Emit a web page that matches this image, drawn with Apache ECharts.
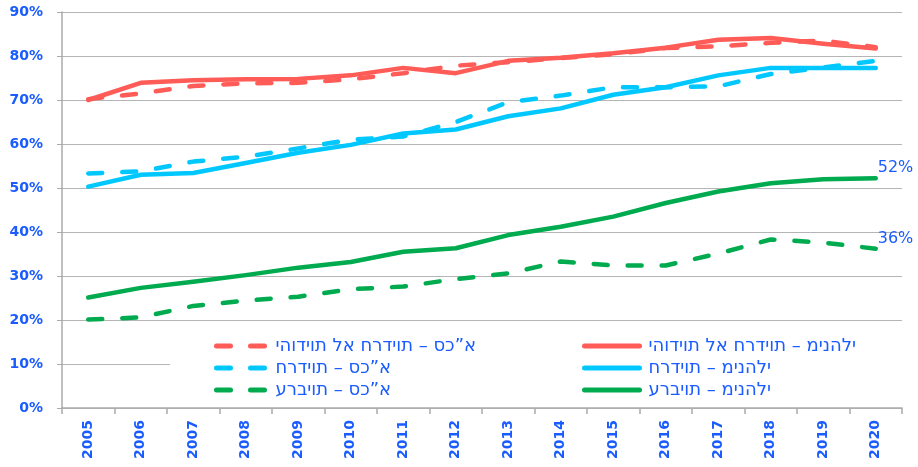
<!DOCTYPE html>
<html>
<head>
<meta charset="utf-8">
<script src="https://cdn.jsdelivr.net/npm/echarts@6/dist/echarts.min.js"></script>
<style>html,body{margin:0;padding:0;background:#fff;}#c{width:918px;height:467px;}</style>
</head>
<body>
<div id="c"></div>
<script>
var years = ['2005','2006','2007','2008','2009','2010','2011','2012','2013','2014','2015','2016','2017','2018','2019','2020'];
var yTicks = [0,10,20,30,40,50,60,70,80,90];

var jewishMgmt   = [70.0,73.9,74.5,74.7,74.8,75.6,77.3,76.1,78.9,79.6,80.6,81.9,83.7,84.1,82.8,81.7];
var jewishAcad   = [70.2,71.5,73.2,73.8,73.9,74.7,76.1,77.8,78.6,79.5,80.4,81.8,82.2,83.0,83.5,82.0];
var orthoMgmt    = [50.3,53.0,53.4,55.7,58.0,59.8,62.4,63.3,66.3,68.1,71.2,72.9,75.6,77.3,77.3,77.3];
var orthoAcad    = [53.3,53.8,56.0,57.1,59.0,61.0,61.7,65.0,69.5,71.0,72.9,72.9,73.1,75.9,77.4,78.9];
var arabMgmt     = [25.1,27.3,28.7,30.2,31.9,33.2,35.5,36.3,39.3,41.2,43.5,46.6,49.2,51.1,52.0,52.2];
var arabAcad     = [20.1,20.6,23.2,24.4,25.3,27.0,27.6,29.3,30.6,33.3,32.4,32.4,35.1,38.3,37.6,36.2];

var names = {
  jm: 'יהודיות לא חרדיות – מינהלי',
  ja: 'יהודיות לא חרדיות – סכ”א',
  om: 'חרדיות – מינהלי',
  oa: 'חרדיות – סכ”א',
  am: 'ערביות – מינהלי',
  aa: 'ערביות – סכ”א'
};

var RED = '#ff5b57', CYAN = '#00c8ff', GREEN = '#00aa4e', BLUE = '#1a5cff';
var FONT = 'DejaVu Sans';
var DASH = [14, 20];

function line(name, data, color, dashed, endLbl) {
  var s = {
    name: name, type: 'line', data: data, symbol: 'none', smooth: false,
    lineStyle: { color: color, width: 4.5, type: dashed ? DASH : 'solid', cap: 'round', join: 'round' },
    itemStyle: { color: color },
    z: 2
  };
  if (endLbl) {
    s.endLabel = {
      show: true, color: BLUE, fontFamily: FONT, fontSize: 16, offset: [-6, -10],
      formatter: function (p) { return Math.round(p.value) + '%'; }
    };
  }
  return s;
}

// the reference lays the Hebrew glyphs out left-to-right; keep that visual order
function ltr(name) { return '\u202D' + name + '\u202C'; }

var legendText = { color: BLUE, fontFamily: FONT, fontSize: 18, lineHeight: 18, padding: [0, 0, 0, 4] };
var legendItem = { color: 'rgba(0,0,0,0)', borderColor: 'rgba(0,0,0,0)', borderWidth: 0, opacity: 0 };
var legendLine = { width: 5, cap: 'round' };

var chart = echarts.init(document.getElementById('c'), null, { renderer: 'canvas' });
chart.setOption({
  animation: false,
  backgroundColor: '#fff',
  grid: { left: 62, right: 16, top: 12, bottom: 59, containLabel: false },
  xAxis: {
    type: 'category', data: years, boundaryGap: true,
    axisLine: { lineStyle: { color: '#aaaaaa', width: 1.5 } },
    axisTick: { show: true, length: 6, lineStyle: { color: '#aaaaaa', width: 1.5 } },
    axisLabel: { rotate: 90, margin: 12, color: BLUE, fontFamily: FONT, fontSize: 14, fontWeight: 'bold', interval: 0 }
  },
  yAxis: {
    type: 'value', min: yTicks[0], max: yTicks[yTicks.length - 1], interval: 10,
    axisLine: { show: true, lineStyle: { color: '#aaaaaa', width: 1.5 } },
    axisTick: { show: true, length: 5, lineStyle: { color: '#aaaaaa' } },
    splitLine: { show: true, lineStyle: { color: '#b5b5b5', width: 1 } },
    axisLabel: { margin: 19, color: BLUE, fontFamily: FONT, fontSize: 14, fontWeight: 'bold', formatter: '{value}%' }
  },
  graphic: [{
    type: 'rect', left: 170, top: 327, z: 3, silent: true,
    shape: { width: 732, height: 77 },
    style: { fill: '#ffffff' }
  }],
  legend: [
    { orient: 'vertical', left: 214, top: 337, padding: 0, itemWidth: 50, itemHeight: 14, itemGap: 4, z: 5,
      itemStyle: legendItem, lineStyle: legendLine, formatter: ltr,
      data: [names.ja, names.oa, names.aa], textStyle: legendText },
    { orient: 'vertical', left: 582, top: 337, padding: 0, itemWidth: 55, itemHeight: 14, itemGap: 4, z: 5,
      itemStyle: legendItem, lineStyle: legendLine, formatter: ltr,
      data: [names.jm, names.om, names.am], textStyle: legendText }
  ],
  series: [
    line(names.ja, jewishAcad, RED, true),
    line(names.jm, jewishMgmt, RED, false),
    line(names.oa, orthoAcad, CYAN, true),
    line(names.om, orthoMgmt, CYAN, false),
    line(names.aa, arabAcad, GREEN, true, true),
    line(names.am, arabMgmt, GREEN, false, true)
  ]
});
</script>
</body>
</html>
